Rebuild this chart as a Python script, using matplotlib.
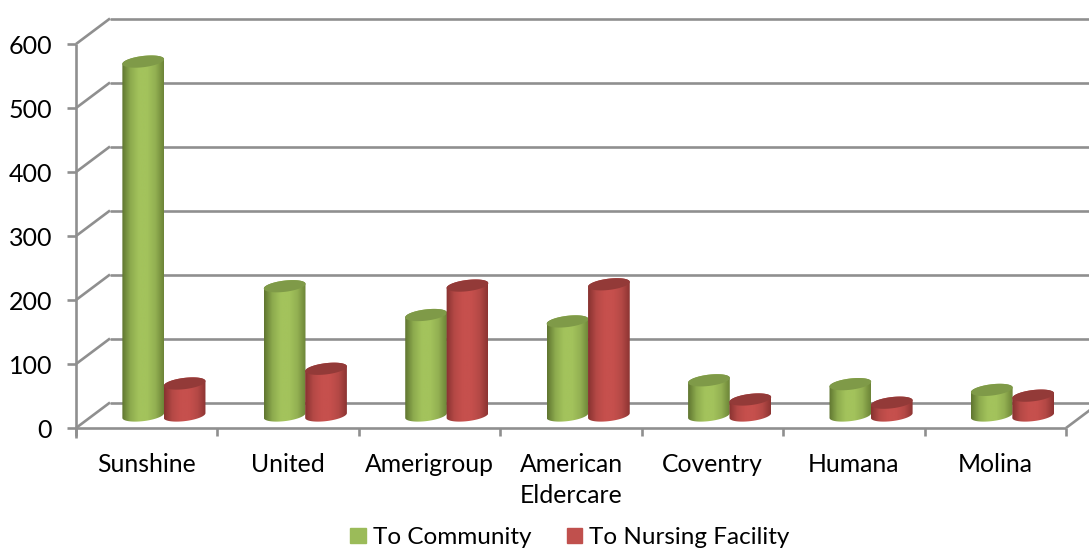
import numpy as np
import matplotlib
matplotlib.use("Agg")
import matplotlib.pyplot as plt
from matplotlib.colors import LinearSegmentedColormap
from matplotlib.patches import Polygon, Patch

categories = ["Sunshine", "United", "Amerigroup", "American\nEldercare", "Coventry", "Humana", "Molina"]
to_community = [553, 202, 157, 147, 55, 49, 40]
to_nursing = [50, 73, 203, 205, 25, 20, 31]
y_ticks = [0, 100, 200, 300, 400, 500, 600]

W, H = 1089, 550
plt.rcParams["font.family"] = ["Lato", "DejaVu Sans"]
fig = plt.figure(figsize=(W / 100, H / 100), dpi=100)
L, R, T, B = 76, 1066, 44, 428
ax = fig.add_axes([L / W, 1 - B / H, (R - L) / W, (B - T) / H])
ax.axis("off")
n = len(categories)
sx = (R - L) / n
sy = (B - T) / 600
GRID = "#8f8f8f"
LW = 1.9
DX, DY = 34 / sx, 25.5 / sy          # depth of the floor/walls


def line(xs, ys, z=1):
    ax.plot(xs, ys, color=GRID, lw=LW, clip_on=False, zorder=z, solid_capstyle="butt")


for v in y_ticks:
    line([-0.5, -0.5 + DX], [v, v + DY])
    line([-0.5 + DX, n - 0.5 + DX], [v + DY, v + DY])
    line([-0.5 - 9 / sx, -0.5], [v, v])
    ax.text(-0.5 - 24 / sx, v - 3 / sy, str(v), ha="right", va="center", fontsize=18, color="black")
line([-0.5, -0.5], [-9 / sy - 1, 600])
line([-0.5, n - 0.5], [0, 0])
line([n - 0.5, n - 0.5 + DX], [0, DY])
for i in range(n + 1):
    line([i - 0.5, i - 0.5], [0, -8 / sy])
for i, c in enumerate(categories):
    ax.text(i, -25 / sy, c, ha="center", va="top", fontsize=17.8, color="black", linespacing=1.42)


def cylinder(cx, value, colors, top_color, z):
    a, b = 21.0, 5.6
    tilt = np.deg2rad(7)
    base = 12.5 / sy
    t1 = np.linspace(np.pi, 2 * np.pi, 40)
    t2 = np.linspace(0, np.pi, 40)

    def ell(t, yc):
        px = a * np.cos(t)
        py = b * np.sin(t)
        return (cx + (px * np.cos(tilt) - py * np.sin(tilt)) / sx,
                yc + (px * np.sin(tilt) + py * np.cos(tilt)) / sy)

    top = base + value
    xb, yb = ell(t1, base)
    xt, yt = ell(t2, top)
    body = Polygon(np.c_[np.r_[xb, xt], np.r_[yb, yt]], closed=True, fc="none", ec="none", transform=ax.transData)
    ax.add_patch(body)
    cmap = LinearSegmentedColormap.from_list("c", colors)
    im = ax.imshow(np.linspace(0, 1, 128)[None, :], cmap=cmap, aspect="auto", interpolation="bilinear",
                   extent=[cx - a / sx, cx + a / sx, base - 10 / sy, top + 10 / sy], zorder=z)
    im.set_clip_path(body)
    xt1, yt1 = ell(np.linspace(0, 2 * np.pi, 80), top)
    ax.add_patch(Polygon(np.c_[xt1, yt1], closed=True, fc=top_color, ec="none", zorder=z + 0.1))


GREEN = ["#5f7530", "#8dab4e", "#a3c35c", "#a3c35c", "#93b052", "#6c8437"]
RED = ["#873230", "#b54946", "#c6504d", "#c6504d", "#b54946", "#8c3432"]
off = 20.7 / sx
shift = 17.2 / sx
for i in range(n):
    cylinder(i + shift - off, to_community[i], GREEN, "#7f9a48", 3 + i)
    cylinder(i + shift + off, to_nursing[i], RED, "#933a38", 3.5 + i)

ax.set_xlim(-0.5, n - 0.5)
ax.set_ylim(0, 600)
ax.legend(handles=[Patch(color="#9bbb59", label="To Community"), Patch(color="#c0504d", label="To Nursing Facility")],
          ncol=2, frameon=False, fontsize=17.5, loc="center", bbox_to_anchor=(570 / W, 1 - 537.5 / H),
          bbox_transform=fig.transFigure, handlelength=0.62, handleheight=0.62, handletextpad=0.29, columnspacing=1.48,
          borderpad=0, borderaxespad=0)
fig.savefig("out.png", dpi=100)
